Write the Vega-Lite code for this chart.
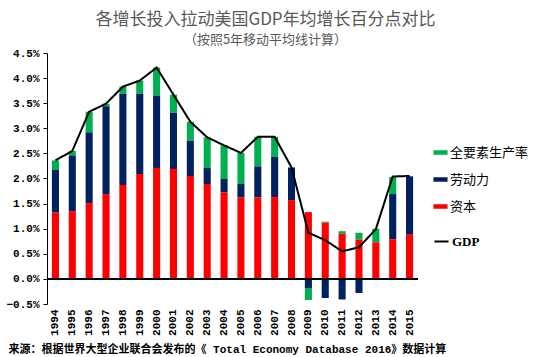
{
  "$schema": "https://vega.github.io/schema/vega-lite/v6.json",
  "width": 371,
  "height": 251,
  "autosize": {"type": "none"},
  "padding": {"left": 47, "top": 53, "right": 132, "bottom": 53},
  "background": "white",
  "title": {
    "text": "各增长投入拉动美国GDP年均增长百分点对比",
    "subtitle": "（按照5年移动平均线计算）",
    "anchor": "middle",
    "dx": 33,
    "offset": -1,
    "font": "Noto Sans CJK SC",
    "fontSize": 17,
    "fontWeight": "normal",
    "color": "#595959",
    "subtitleFont": "Noto Sans CJK SC",
    "subtitleFontSize": 13,
    "subtitleColor": "#595959",
    "subtitlePadding": 5
  },
  "data": {
    "values": [
      {"year": "1994", "资本": 0.0132, "劳动力": 0.0085, "全要素生产率": 0.0019, "GDP": 0.0236},
      {"year": "1995", "资本": 0.0135, "劳动力": 0.0111, "全要素生产率": 0.0009, "GDP": 0.0255},
      {"year": "1996", "资本": 0.0151, "劳动力": 0.0141, "全要素生产率": 0.0041, "GDP": 0.0333},
      {"year": "1997", "资本": 0.0169, "劳动力": 0.0175, "全要素生产率": 0.0005, "GDP": 0.0349},
      {"year": "1998", "资本": 0.0187, "劳动力": 0.0182, "全要素生产率": 0.0014, "GDP": 0.0383},
      {"year": "1999", "资本": 0.0209, "劳动力": 0.0160, "全要素生产率": 0.0026, "GDP": 0.0395},
      {"year": "2000", "资本": 0.0221, "劳动力": 0.0144, "全要素生产率": 0.0056, "GDP": 0.0421},
      {"year": "2001", "资本": 0.0219, "劳动力": 0.0112, "全要素生产率": 0.0036, "GDP": 0.0367},
      {"year": "2002", "资本": 0.0205, "劳动力": 0.0070, "全要素生产率": 0.0038, "GDP": 0.0313},
      {"year": "2003", "资本": 0.0189, "劳动力": 0.0032, "全要素生产率": 0.0061, "GDP": 0.0282},
      {"year": "2004", "资本": 0.0172, "劳动力": 0.0027, "全要素生产率": 0.0067, "GDP": 0.0266},
      {"year": "2005", "资本": 0.0162, "劳动力": 0.0027, "全要素生产率": 0.0062, "GDP": 0.0251},
      {"year": "2006", "资本": 0.0162, "劳动力": 0.0062, "全要素生产率": 0.0059, "GDP": 0.0283},
      {"year": "2007", "资本": 0.0163, "劳动力": 0.0080, "全要素生产率": 0.0040, "GDP": 0.0283},
      {"year": "2008", "资本": 0.0157, "劳动力": 0.0065, "全要素生产率": 0.0000, "GDP": 0.0222},
      {"year": "2009", "资本": 0.0133, "劳动力": -0.0019, "全要素生产率": -0.0023, "GDP": 0.0092},
      {"year": "2010", "资本": 0.0112, "劳动力": -0.0038, "全要素生产率": 0.0002, "GDP": 0.0077},
      {"year": "2011", "资本": 0.0090, "劳动力": -0.0041, "全要素生产率": 0.0005, "GDP": 0.0055},
      {"year": "2012", "资本": 0.0078, "劳动力": -0.0028, "全要素生产率": 0.0014, "GDP": 0.0063},
      {"year": "2013", "资本": 0.0073, "劳动力": -0.0002, "全要素生产率": 0.0027, "GDP": 0.0099},
      {"year": "2014", "资本": 0.0079, "劳动力": 0.0090, "全要素生产率": 0.0034, "GDP": 0.0204},
      {"year": "2015", "资本": 0.0088, "劳动力": 0.0116, "全要素生产率": 0.0001, "GDP": 0.0205}
    ]
  },
  "layer": [
    {
      "transform": [{"fold": ["全要素生产率", "劳动力", "资本"], "as": ["component", "value"]}],
      "mark": {"type": "bar"},
      "encoding": {
        "x": {
          "field": "year",
          "type": "ordinal",
          "scale": {"paddingInner": 0.58, "paddingOuter": 0.29},
          "axis": {
            "title": "来源：根据世界大型企业联合会发布的《 Total Economy Database 2016》数据计算",
            "domain": false,
            "ticks": false,
            "labelAngle": 270,
            "labelFont": "Liberation Mono",
            "labelFontSize": 11,
            "labelFontWeight": "bold",
            "labelColor": "black",
            "labelPadding": 5,
            "titleAnchor": "start",
            "titleAlign": "left",
            "titleX": -39,
            "titleY": 48,
            "titleBaseline": "alphabetic",
            "titleFont": "Liberation Mono, Noto Sans CJK SC",
            "titleFontSize": 11,
            "titleFontWeight": "bold",
            "titleColor": "black"
          }
        },
        "y": {
          "field": "value",
          "type": "quantitative",
          "stack": "zero",
          "scale": {"domain": [-0.005, 0.045], "nice": false},
          "axis": {
            "title": null,
            "values": [-0.005, 0, 0.005, 0.01, 0.015, 0.02, 0.025, 0.03, 0.035, 0.04, 0.045],
            "tickCount": 20,
            "format": ".1%",
            "labelOverlap": false,
            "grid": false,
            "domainColor": "black",
            "tickColor": "black",
            "tickSize": 4,
            "labelPadding": 4,
            "labelFont": "Liberation Mono",
            "labelFontSize": 11,
            "labelFontWeight": "bold",
            "labelColor": "black"
          }
        },
        "color": {
          "field": "component",
          "type": "nominal",
          "scale": {
            "domain": ["全要素生产率", "劳动力", "资本"],
            "range": ["#00B050", "#002060", "#FF0000"]
          },
          "legend": {
            "orient": "none",
            "legendX": 386,
            "legendY": 92,
            "title": null,
            "symbolType": "M-1,-0.32L1,-0.32L1,0.32L-1,0.32Z",
            "symbolSize": 200,
            "symbolStrokeWidth": 0,
            "labelFont": "Noto Sans CJK SC",
            "labelFontSize": 13,
            "labelColor": "black",
            "rowPadding": 12,
            "labelOffset": 2
          }
        },
        "order": {"field": "component", "sort": "descending"}
      }
    },
    {
      "mark": {"type": "rule", "color": "black", "strokeWidth": 1},
      "encoding": {"y": {"datum": 0}}
    },
    {
      "mark": {"type": "line", "strokeWidth": 2, "color": "black"},
      "encoding": {
        "x": {"field": "year", "type": "ordinal"},
        "y": {"field": "GDP", "type": "quantitative"},
        "strokeDash": {
          "datum": "GDP",
          "type": "nominal",
          "scale": {"domain": ["GDP"], "range": [[1, 0]]},
          "legend": {
            "orient": "none",
            "legendX": 386,
            "legendY": 180,
            "title": null,
            "symbolType": "stroke",
            "symbolSize": 200,
            "symbolStrokeWidth": 2,
            "symbolStrokeColor": "black",
            "labelFont": "Liberation Serif",
            "labelFontSize": 13,
            "labelFontWeight": "bold",
            "labelColor": "black",
            "labelOffset": 2
          }
        }
      }
    }
  ],
  "config": {
    "view": {"stroke": null},
    "axisY": {"labelOverlap": false}
  }
}
